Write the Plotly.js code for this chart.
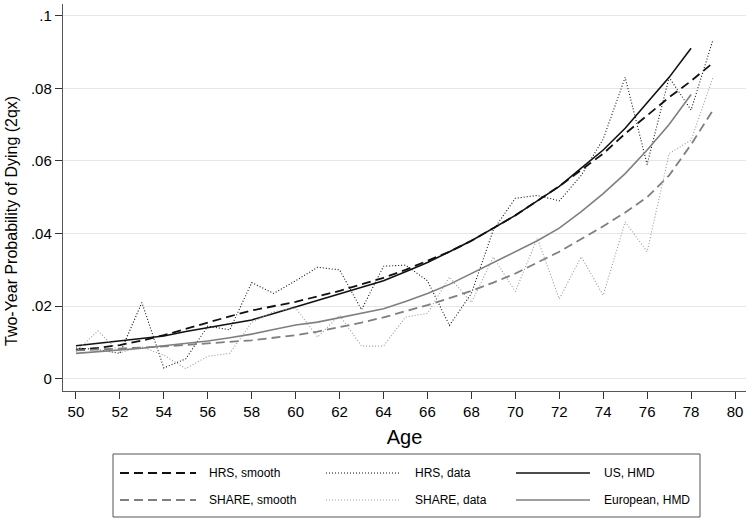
<!DOCTYPE html>
<html>
<head>
<meta charset="utf-8">
<script src="https://cdn.plot.ly/plotly-3.0.1.min.js"></script>
<style>html,body{margin:0;padding:0;background:#fff;}#chart{width:750px;height:522px;}</style>
</head>
<body>
<div id="chart"></div>
<script>
// Ages
const ages = [50,51,52,53,54,55,56,57,58,59,60,61,62,63,64,65,66,67,68,69,70,71,72,73,74,75,76,77,78,79];
const agesHMD = ages.slice(0, 29); // 50..78

// HRS, smooth (black dashed)
const hrsSmooth = [0.0080,0.0085,0.0093,0.0105,0.0120,0.0138,0.0155,0.0172,0.0188,0.0200,0.0212,0.0227,0.0242,0.0260,0.0278,0.0300,0.0325,0.0350,0.0380,0.0415,0.0450,0.0490,0.0530,0.0575,0.0620,0.0675,0.0725,0.0775,0.0820,0.0870];
// HRS, data (black dotted)
const hrsData = [0.0085,0.0080,0.0070,0.0210,0.0030,0.0055,0.0145,0.0135,0.0265,0.0235,0.0270,0.0307,0.0300,0.0190,0.0310,0.0313,0.0270,0.0147,0.0235,0.0410,0.0497,0.0505,0.0490,0.0560,0.0660,0.0830,0.0590,0.0830,0.0740,0.0934];
// US, HMD (black solid)
const usHMD = [0.0091,0.0098,0.0104,0.0110,0.0118,0.0130,0.0140,0.0150,0.0162,0.0180,0.0198,0.0215,0.0232,0.0250,0.0270,0.0295,0.0320,0.0350,0.0380,0.0415,0.0450,0.0490,0.0530,0.0580,0.0630,0.0690,0.0760,0.0830,0.0910];
// SHARE, smooth (gray dashed)
const shareSmooth = [0.0078,0.0080,0.0083,0.0086,0.0089,0.0093,0.0097,0.0101,0.0106,0.0113,0.0120,0.0130,0.0142,0.0155,0.0169,0.0185,0.0203,0.0222,0.0242,0.0265,0.0290,0.0320,0.0350,0.0385,0.0420,0.0458,0.0500,0.0560,0.0645,0.0740];
// SHARE, data (gray dotted)
const shareData = [0.0075,0.0132,0.0072,0.0088,0.0065,0.0028,0.0062,0.0070,0.0155,0.0185,0.0195,0.0115,0.0175,0.0090,0.0090,0.0170,0.0180,0.0280,0.0210,0.0335,0.0240,0.0387,0.0220,0.0336,0.0230,0.0432,0.0350,0.0620,0.0657,0.0830];
// European, HMD (gray solid)
const euHMD = [0.0070,0.0074,0.0078,0.0084,0.0091,0.0097,0.0104,0.0113,0.0123,0.0136,0.0148,0.0156,0.0168,0.0180,0.0193,0.0213,0.0235,0.0260,0.0290,0.0320,0.0350,0.0380,0.0415,0.0460,0.0510,0.0565,0.0630,0.0700,0.0783];

const xTicks = [50,52,54,56,58,60,62,64,66,68,70,72,74,76,78,80];
const yTicks = [0,0.02,0.04,0.06,0.08,0.1];
const yTickText = ['0','.02','.04','.06','.08','.1'];

const BLACK = '#111111';
const GRAY = '#7f7f7f';
const LGRAY = '#999999';
const FONT = '"Liberation Sans", Arial, Helvetica, sans-serif';

const seriesStyle = [
  {name: 'HRS, smooth',    color: BLACK, width: 1.8, dash: '9px,5px'},
  {name: 'HRS, data',      color: BLACK, width: 1.1, dash: '1px,2px'},
  {name: 'US, HMD',        color: BLACK, width: 1.6, dash: 'solid'},
  {name: 'SHARE, smooth',  color: GRAY,  width: 1.8, dash: '9px,5px'},
  {name: 'SHARE, data',    color: LGRAY, width: 1.1, dash: '1px,2px'},
  {name: 'European, HMD',  color: GRAY,  width: 1.6, dash: 'solid'}
];
const seriesX = [ages, ages, agesHMD, ages, ages, agesHMD];
const seriesY = [hrsSmooth, hrsData, usHMD, shareSmooth, shareData, euHMD];

const traces = seriesStyle.map((s, i) => ({
  x: seriesX[i], y: seriesY[i], name: s.name, mode: 'lines',
  line: {color: s.color, width: s.width, dash: s.dash}, showlegend: false
}));

// Plot area in pixels (for placing the legend key below the axes)
const PL = 63, PR = 746, PT = 4, PB = 391;
const px = X => (X - PL) / (PR - PL);
const py = Y => (PB - Y) / (PB - PT);

const shapes = [];
const annotations = [];
// legend box
shapes.push({type: 'rect', xref: 'paper', yref: 'paper', x0: px(113), x1: px(700), y0: py(517), y1: py(454),
  line: {color: '#555', width: 1}, fillcolor: 'rgba(0,0,0,0)'});
const colSample = [[120, 196], [326, 401], [516, 590]];
const colText = [207, 413, 602];
const rowY = [473, 500];
seriesStyle.forEach((s, i) => {
  const r = Math.floor(i / 3), c = i % 3;
  shapes.push({type: 'line', xref: 'paper', yref: 'paper',
    x0: px(colSample[c][0]), x1: px(colSample[c][1]), y0: py(rowY[r]), y1: py(rowY[r]),
    line: {color: s.color, width: s.width, dash: s.dash}});
  annotations.push({xref: 'paper', yref: 'paper', x: px(colText[c]), y: py(rowY[r]),
    xanchor: 'left', yanchor: 'middle', showarrow: false, text: s.name,
    font: {size: 12, family: FONT, color: '#000'}});
});
// y-axis title
annotations.push({xref: 'paper', yref: 'paper', x: px(12), y: py(221), xanchor: 'center', yanchor: 'middle',
  showarrow: false, textangle: -90, text: 'Two-Year Probability of Dying (2qx)',
  font: {size: 16, family: FONT, color: '#000'}});

const layout = {
  width: 750, height: 522,
  margin: {l: PL, r: 750 - PR, t: PT, b: 522 - PB, autoexpand: false},
  paper_bgcolor: '#fff', plot_bgcolor: '#fff',
  font: {family: FONT, color: '#000', size: 14},
  showlegend: false,
  xaxis: {
    range: [49.41, 80.5],
    tickvals: xTicks, ticktext: xTicks.map(String),
    ticks: 'outside', ticklen: 7, tickcolor: '#333', tickwidth: 1,
    showline: true, linecolor: '#555', linewidth: 1.2,
    showgrid: false, zeroline: false,
    tickfont: {size: 15, family: FONT},
    title: {text: 'Age', font: {size: 20, family: FONT}, standoff: 10},
    automargin: false
  },
  yaxis: {
    range: [-0.00336, 0.1032],
    tickvals: yTicks, ticktext: yTickText,
    ticks: 'outside', ticklen: 7, tickcolor: '#333', tickwidth: 1,
    showline: true, linecolor: '#555', linewidth: 1.2,
    showgrid: true, gridcolor: '#e6e6e6', gridwidth: 1,
    zeroline: false,
    tickfont: {size: 15, family: FONT},
    automargin: false
  },
  shapes: shapes,
  annotations: annotations
};

Plotly.newPlot('chart', traces, layout, {staticPlot: true, displayModeBar: false});
</script>
</body>
</html>
